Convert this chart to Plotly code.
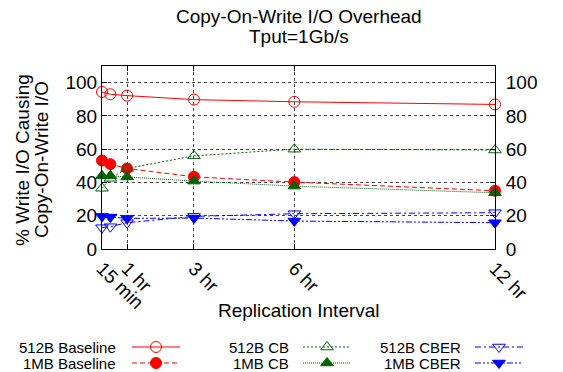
import plotly.graph_objects as go

# Replication interval in hours
intervals = [0.25, 0.5, 1, 3, 6, 12]
tick_vals = [0.25, 1, 3, 6, 12]
tick_text = ["15 min", "1 hr", "3 hr", "6 hr", "12 hr"]

# % of write I/O causing copy-on-write I/O
baseline_512b = [94.4, 93.0, 92.2, 89.8, 88.5, 86.9]
baseline_1mb = [53.2, 51.0, 48.4, 43.4, 40.2, 35.0]
cb_512b = [36.5, 42.5, 48.4, 56.0, 60.0, 59.5]
cb_1mb = [44.0, 44.0, 43.3, 40.8, 37.8, 33.8]
cber_512b = [12.8, 13.4, 15.8, 19.6, 21.2, 21.8]
cber_1mb = [19.6, 19.2, 18.4, 18.6, 16.8, 15.8]

W, H = 563, 372
L, R, T, B = 102, 495, 66, 249  # plot box in pixels
FONT = "Liberation Sans, Arial, Helvetica, sans-serif"

RED, GREEN, BLUE = "#ff0000", "#006400", "#0000ff"

series = [
    ("512B Baseline", baseline_512b, RED, "solid", "circle-open", 1.0),
    ("1MB Baseline", baseline_1mb, RED, "5px,3px", "circle", 1.0),
    ("512B CB", cb_512b, GREEN, "2px,2px", "triangle-up-open", 1.0),
    ("1MB CB", cb_1mb, GREEN, "1px,1px", "triangle-up", 1.0),
    ("512B CBER", cber_512b, BLUE, "6px,3px,2px,3px", "triangle-down-open", 1.0),
    ("1MB CBER", cber_1mb, BLUE, "6px,2px,2px,2px,2px,2px", "triangle-down", 1.0),
]

fig = go.Figure()

for name, vals, color, dash, symbol, lw in series:
    fig.add_trace(go.Scatter(
        x=intervals, y=vals, name=name, mode="lines+markers",
        line=dict(color=color, width=lw, dash=dash),
        marker=dict(symbol=symbol, size=11, color=color,
                    line=dict(color=color, width=1)),
        xaxis="x", yaxis="y", showlegend=False, cliponaxis=False,
    ))

# Transparent twin so the right-hand axis gets drawn
fig.add_trace(go.Scatter(
    x=intervals, y=baseline_512b, mode="markers", opacity=0,
    xaxis="x", yaxis="y2", showlegend=False, hoverinfo="skip",
))

# Key in a pixel-space overlay: text right-aligned, sample line to its right
key_cols = [(118, 132, 180), (291, 303, 351), (463, 475, 523)]
key_rows = [347, 363]
for i, (name, vals, color, dash, symbol, lw) in enumerate(series):
    col, row = i // 2, i % 2
    tx, x0, x1 = key_cols[col]
    y = key_rows[row]
    fig.add_trace(go.Scatter(
        x=[x0, x1], y=[y, y], mode="lines",
        line=dict(color=color, width=lw, dash=dash),
        xaxis="x3", yaxis="y3", showlegend=False, hoverinfo="skip",
    ))
    fig.add_trace(go.Scatter(
        x=[(x0 + x1) / 2], y=[y], mode="markers",
        marker=dict(symbol=symbol, size=11, color=color,
                    line=dict(color=color, width=1)),
        xaxis="x3", yaxis="y3", showlegend=False, hoverinfo="skip",
    ))
    fig.add_annotation(
        x=tx, y=y, xref="x3", yref="y3", text=name, showarrow=False,
        xanchor="right", yanchor="middle", font=dict(size=15, color="black"),
    )

dom_x = [L / W, R / W]
dom_y = [1 - B / H, 1 - T / H]
ytick_vals = [0, 20, 40, 60, 80, 100]

axis_common = dict(
    showline=True, linecolor="black", linewidth=1,
    ticks="inside", ticklen=5, tickcolor="black",
    tickfont=dict(size=19, color="black"), zeroline=False,
    automargin=False,
)

fig.update_layout(
    width=W, height=H, autosize=False,
    margin=dict(l=0, r=0, t=0, b=0, autoexpand=False),
    paper_bgcolor="white", plot_bgcolor="rgba(0,0,0,0)",
    font=dict(family=FONT, color="black"),
    showlegend=False,
    xaxis=dict(
        domain=dom_x, range=[0.25, 12], anchor="y",
        tickvals=tick_vals, ticktext=tick_text, tickangle=45,
        mirror="ticks",
        showgrid=True, gridcolor="#444", griddash="dot", gridwidth=1,
        **axis_common,
    ),
    yaxis=dict(
        domain=dom_y, range=[0, 110], anchor="x",
        tickvals=ytick_vals, mirror=True,
        showgrid=True, gridcolor="#444", griddash="dot", gridwidth=1,
        **axis_common,
    ),
    yaxis2=dict(
        domain=dom_y, range=[0, 110], anchor="x", overlaying="y", side="right",
        tickvals=ytick_vals, showgrid=False, ticklabelstandoff=6,
        **axis_common,
    ),
    xaxis3=dict(domain=[0, 1], range=[0, W], anchor="y3", visible=False,
                fixedrange=True, automargin=False),
    yaxis3=dict(domain=[0, 1], range=[H, 0], anchor="x3", visible=False,
                fixedrange=True, automargin=False),
)

cx = (L + R) / 2
for text, y in [("Copy-On-Write I/O Overhead", 16), ("Tput=1Gb/s", 36)]:
    fig.add_annotation(x=cx, y=y, xref="x3", yref="y3", text=text,
                       showarrow=False, xanchor="center", yanchor="middle",
                       font=dict(size=19))
fig.add_annotation(x=cx, y=310, xref="x3", yref="y3", text="Replication Interval",
                   showarrow=False, xanchor="center", yanchor="middle",
                   font=dict(size=19))
for text, x in [("% Write I/O Causing", 22), ("Copy-On-Write I/O", 41)]:
    fig.add_annotation(x=x, y=160, xref="x3", yref="y3", text=text,
                       showarrow=False, textangle=-90, xanchor="center",
                       yanchor="middle", font=dict(size=19))

fig.write_html("out.html")
